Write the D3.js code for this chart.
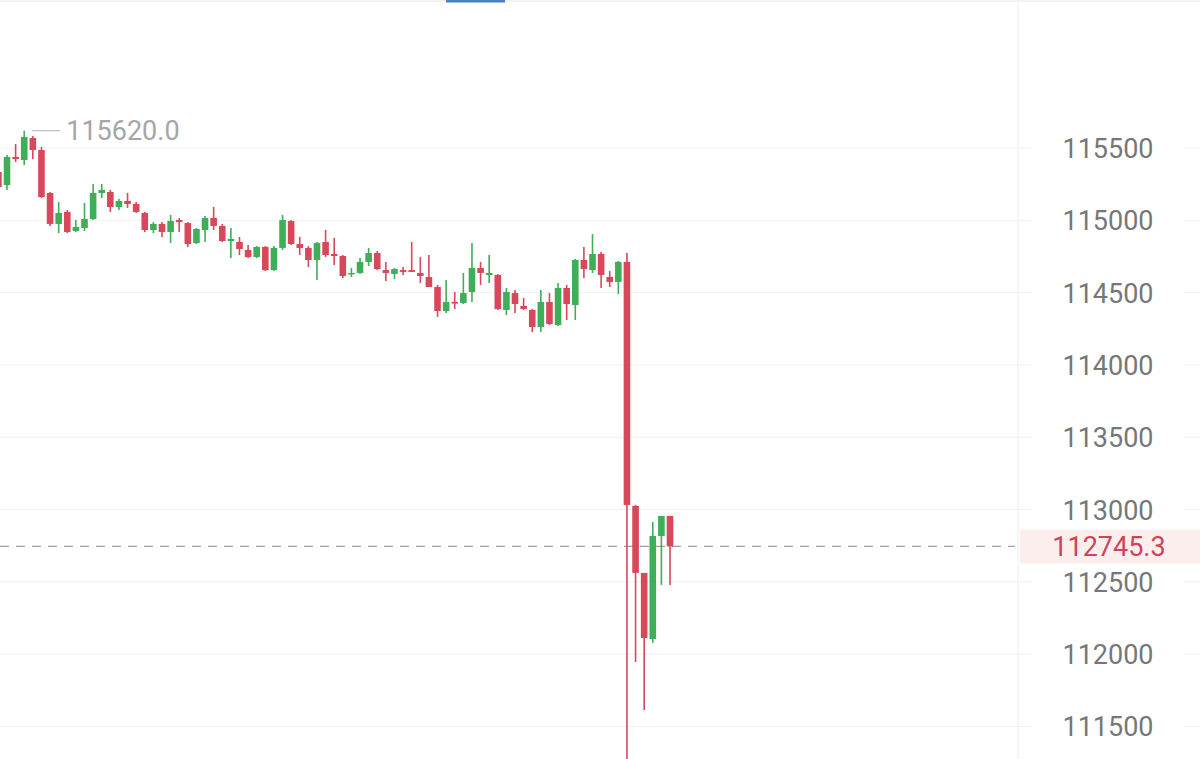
<!DOCTYPE html>
<html><head><meta charset="utf-8">
<script src="https://cdn.jsdelivr.net/npm/d3@7"></script>
<style>html,body{margin:0;padding:0;background:#fff;overflow:hidden}svg{display:block}</style>
</head><body><svg id="c" width="1200" height="759"></svg>
<script>
// OHLC data (one candle per slot)
const opens  = [115334,115244,115438,115417,115569,115486,115189,114975,115058,114926,114947,115009,115189,115196,115092,115134,115113,115051,114933,114975,114919,115002,114981,114843,114933,115016,114961,114857,114850,114795,114746,114816,114656,114809,114995,114836,114809,114726,114850,114767,114753,114629,114636,114712,114774,114656,114629,114656,114656,114636,114608,114539,114373,114435,114428,114504,114670,114622,114622,114380,114497,114408,114380,114262,114435,114276,114532,114414,114726,114656,114767,114608,114574,114712,113025,112562,112105,112817,112956];
const highs  = [115382,115452,115528,115620,115583,115507,115196,115127,115071,115002,115120,115251,115251,115210,115147,115189,115127,115058,114988,114988,115037,115016,114988,114947,115030,115092,114975,114947,114885,114829,114822,114822,114822,115037,115002,114885,114822,114850,114933,114878,114760,114670,114739,114809,114788,114712,114670,114677,114850,114746,114760,114553,114587,114504,114636,114843,114712,114760,114629,114532,114518,114463,114387,114518,114497,114567,114553,114733,114816,114905,114781,114650,114719,114774,113032,112562,112914,112956,112956];
const lows   = [115140,115210,115403,115382,115424,115154,114961,114912,114912,114919,114926,115002,115154,115058,115071,115085,115051,114919,114912,114885,114843,114919,114816,114836,114850,114933,114850,114739,114760,114739,114739,114650,114650,114795,114829,114760,114677,114587,114746,114691,114601,114608,114629,114684,114656,114580,114594,114622,114643,114567,114539,114332,114359,114387,114421,114435,114553,114567,114380,114345,114359,114380,114228,114228,114276,114269,114311,114311,114601,114636,114532,114539,114491,111130,111946,111614,112078,112479,112479];
const closes = [115230,115438,115424,115576,115486,115161,114975,115051,114919,114954,115009,115189,115210,115092,115134,115113,115058,114933,114975,114919,114995,114988,114836,114940,115016,114961,114857,114871,114802,114746,114816,114656,114809,115002,114836,114809,114726,114843,114760,114753,114615,114636,114712,114774,114663,114636,114663,114643,114643,114615,114539,114373,114435,114428,114497,114670,114636,114636,114387,114504,114421,114387,114262,114435,114283,114532,114421,114726,114663,114767,114622,114574,114712,113032,112562,112112,112817,112956,112745.3];
const tickValues = [115500,115000,114500,114000,113500,113000,112500,112000,111500];
const lastPrice = 112745.3;
const maxLabel = "115620.0";

const candles = opens.map((o,i)=>({i, o, h:highs[i], l:lows[i], c:closes[i]}));

const svg = d3.select("#c");
const W = 1200, H = 759, plotRight = 1018;
const red = "#d9475a", green = "#3fae58";

const x = d3.scaleLinear().domain([0, candles.length-1]).range([-1.6, 670]);
const y = d3.scaleLinear().domain([111500, 115500]).range([726.5, 148]);

// top bar line
svg.append("line").attr("x1",0).attr("x2",W).attr("y1",1).attr("y2",1).attr("stroke","#eeeeee").attr("stroke-width",1.5);
svg.append("rect").attr("x",446).attr("y",0).attr("width",59).attr("height",2.5).attr("fill","#4a7fc1");

// gridlines
svg.append("g").selectAll("line").data(tickValues).join("line")
  .attr("x1",0).attr("x2",W).attr("y1",d=>y(d)).attr("y2",d=>y(d))
  .attr("stroke","#f1f1f1").attr("stroke-width",1);

// separator
svg.append("line").attr("x1",plotRight).attr("x2",plotRight).attr("y1",2).attr("y2",H).attr("stroke","#f0f0f0").attr("stroke-width",1.2);

// axis labels via d3 axis
const axis = d3.axisRight(y).tickValues(tickValues).tickSize(0).tickPadding(0).tickFormat(d3.format("d"));
const ag = svg.append("g").attr("transform",`translate(1108,0)`).call(axis);
ag.select(".domain").remove();
ag.selectAll(".tick").insert("rect","text").attr("x",-76).attr("y",-15).attr("width",152).attr("height",30).attr("fill","#fff");
ag.selectAll("text").attr("x",0).attr("text-anchor","middle").attr("dy","0.35em")
  .attr("font-family","Roboto, 'Noto Sans', sans-serif").attr("font-size",27).attr("fill","#777777");

// last price dashed line
svg.append("line").attr("x1",0).attr("x2",1015).attr("y1",y(lastPrice)).attr("y2",y(lastPrice))
  .attr("stroke","#a0a0a0").attr("stroke-width",1.3).attr("stroke-dasharray","9,7");

// candles
const g = svg.append("g");
g.selectAll("line.w").data(candles).join("line").attr("class","w")
  .attr("x1",d=>x(d.i)).attr("x2",d=>x(d.i)).attr("y1",d=>y(d.h)).attr("y2",d=>y(d.l))
  .attr("stroke",d=>d.c>=d.o?green:red).attr("stroke-width",1.6);
g.selectAll("rect.b").data(candles).join("rect").attr("class","b")
  .attr("x",d=>x(d.i)-3.3).attr("width",6.6)
  .attr("y",d=>y(Math.max(d.o,d.c))).attr("height",d=>Math.max(1.5, Math.abs(y(d.o)-y(d.c))))
  .attr("fill",d=>d.c>=d.o?green:red);

// max marker
const maxC = candles.reduce((a,b)=>b.h>a.h?b:a);
svg.append("line").attr("x1",x(maxC.i)+8).attr("x2",x(maxC.i)+36).attr("y1",y(maxC.h)).attr("y2",y(maxC.h))
  .attr("stroke","#bdbdbd").attr("stroke-width",1.2);
svg.append("text").attr("x",x(maxC.i)+42).attr("y",y(maxC.h)).attr("dy","0.35em")
  .attr("font-family","Roboto, 'Noto Sans', sans-serif").attr("font-size",27).attr("fill","#a6a6a6").text(maxLabel);

// last price label
svg.append("rect").attr("x",1020).attr("y",y(lastPrice)-17).attr("width",180).attr("height",34).attr("fill","#fdeeee");
svg.append("text").attr("x",1109).attr("y",y(lastPrice)).attr("dy","0.35em").attr("text-anchor","middle")
  .attr("font-family","Roboto, 'Noto Sans', sans-serif").attr("font-size",27).attr("fill","#d0435a").text(d3.format(".1f")(lastPrice));
</script></body></html>
